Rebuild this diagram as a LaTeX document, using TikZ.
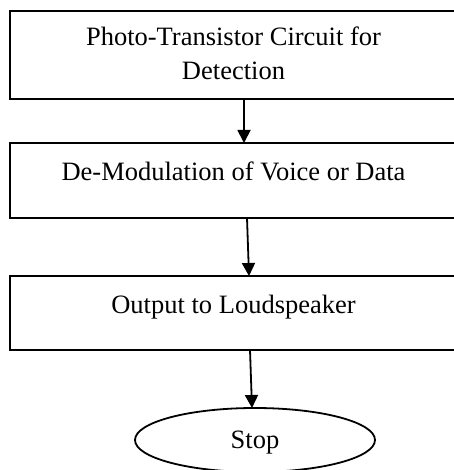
\documentclass[tikz,border=0pt]{standalone}
\usepackage{fontspec}
\setmainfont{Liberation Serif}
\usetikzlibrary{arrows.meta,shapes.geometric,calc}

\tikzset{
  stepbox/.style={draw=black, line width=1.8pt, rectangle, inner sep=0pt, outer sep=0pt,
                  anchor=north west, minimum width=455pt},
  steptext/.style={anchor=base, inner sep=0pt, align=center,
                   font=\fontsize{26.5}{34}\selectfont},
  endcap/.style={draw=black, line width=1.8pt, ellipse, inner sep=0pt, outer sep=0pt,
                 minimum width=240pt, minimum height=64pt,
                 text height=17.5pt, text depth=0pt,
                 font=\fontsize{26.5}{34}\selectfont},
  flow/.style={draw=black, line width=1.8pt, -{Triangle[length=13pt,width=13pt]}}
}

\begin{document}
\begin{tikzpicture}[x=1pt, y=-1pt]
  \useasboundingbox (0,0) rectangle (453,470);

  % process boxes
  \node[stepbox, minimum height=88pt] (b1) at (10,11) {};
  \node[stepbox, minimum height=75pt] (b2) at (10,143) {};
  \node[stepbox, minimum height=74pt] (b3) at (10,276) {};

  % box captions (base anchor sits on the last line)
  \node[steptext] (t1) at (233.5,79.5) {Photo-Transistor Circuit for\\Detection};
  \node[steptext] (t2) at (233.5,180) {De-Modulation of Voice or Data};
  \node[steptext] (t3) at (233.5,313.5) {Output to Loudspeaker};

  % terminator
  \node[endcap] (stopn) at (255,440) {Stop};

  % connectors
  \draw[flow] ($(b1.south west)+(234,0)$) -- ($(b2.north west)+(234,0)$);
  \draw[flow] ($(b2.south west)+(237,0)$) -- ($(b3.north west)+(239,0)$);
  \draw[flow] ($(b3.south west)+(240,0)$) -- ($(stopn.north)+(-3,0)$);
\end{tikzpicture}
\end{document}
